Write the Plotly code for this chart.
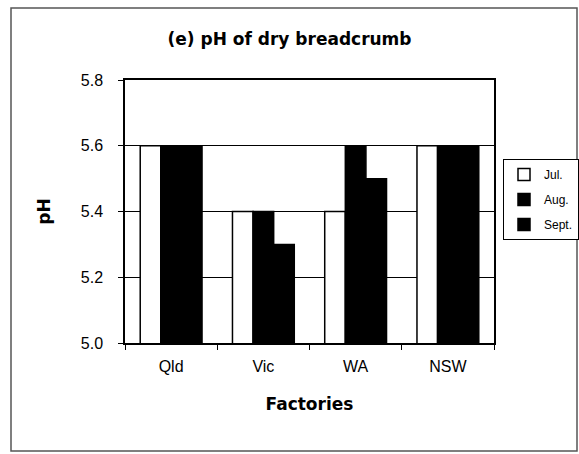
import plotly.graph_objects as go

factories = ["Qld", "Vic", "WA", "NSW"]
series_names = ["Jul.", "Aug.", "Sept."]
jul = [5.6, 5.4, 5.4, 5.6]
aug = [5.6, 5.4, 5.6, 5.6]
sept = [5.6, 5.3, 5.5, 5.6]
y_ticks = [5.0, 5.2, 5.4, 5.6, 5.8]
y_tick_labels = ["5.0", "5.2", "5.4", "5.6", "5.8"]

fills = ["white", "black", "black"]
values = [jul, aug, sept]

fig = go.Figure()
for name, vals, fill in zip(series_names, values, fills):
    fig.add_trace(go.Bar(
        x=factories, y=vals, name=name, legendgroup=name,
        marker=dict(color=fill, line=dict(color="black", width=1.5)),
    ))

W, H = 579, 454
L, R, T, B = 125, 85, 80, 111
pw, ph = W - L - R, H - T - B

def px(x):
    return (x - L) / pw

def py(y):
    return (H - B - y) / ph

bold_font = "DejaVu Sans, Liberation Sans, Arial"

fig.update_layout(
    width=W, height=H,
    margin=dict(l=L, r=R, t=T, b=B, autoexpand=False),
    paper_bgcolor="white", plot_bgcolor="white",
    font=dict(family="Liberation Sans, Arial", color="black", size=16),
    barmode="group", bargap=0.33, bargroupgap=0,
    title=dict(text="<b>(e) pH of dry breadcrumb</b>", x=0.5, xanchor="center",
               y=1 - 39 / H, yanchor="middle",
               font=dict(size=17, family=bold_font)),
    legend=dict(x=px(503), xanchor="left", y=py(159), yanchor="top",
                bordercolor="black", borderwidth=1, bgcolor="white",
                font=dict(size=12), tracegroupgap=6, itemwidth=30),
    showlegend=True,
    shapes=[dict(type="rect", xref="paper", yref="paper",
                 x0=px(11), x1=px(577), y0=py(451), y1=py(8),
                 line=dict(color="#555555", width=1.5), layer="below")],
)
fig.update_xaxes(
    showline=True, linecolor="black", linewidth=1.5, mirror=True,
    ticks="outside", tickson="boundaries", ticklen=5, tickcolor="black",
    title=dict(text="<b>Factories</b>", font=dict(size=17, family=bold_font), standoff=24),
    tickfont=dict(size=16), ticklabelstandoff=8, showgrid=False,
)
fig.update_yaxes(
    range=[5.0, 5.8], tickvals=y_ticks, ticktext=y_tick_labels,
    showline=True, linecolor="black", linewidth=1.5, mirror=True,
    ticks="outside", ticklen=5, tickcolor="black",
    showgrid=True, gridcolor="black", gridwidth=1,
    title=dict(text="<b>pH</b>", font=dict(size=17, family=bold_font), standoff=26),
    tickfont=dict(size=16), ticklabelstandoff=12, zeroline=False,
)
fig.write_html("out.html", config={"displayModeBar": False},
               post_script="document.body.style.margin='0';")
